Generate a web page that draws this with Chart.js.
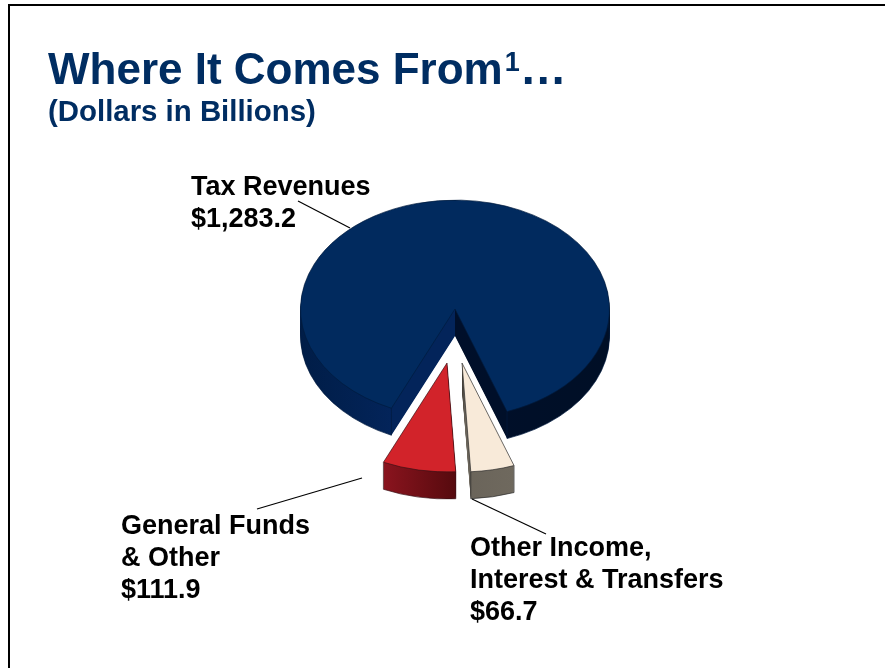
<!DOCTYPE html>
<html>
<head>
<meta charset="utf-8">
<script src="https://cdn.jsdelivr.net/npm/chart.js@4"></script>
<style>
  html,body{margin:0;padding:0;background:#fff;width:885px;height:668px;overflow:hidden;}
  #wrap{position:relative;width:885px;height:668px;}
  #frame{position:absolute;left:8px;top:4px;right:-4px;bottom:-4px;border:2px solid #000;}
  canvas{position:absolute;left:0;top:0;}
  .t{position:absolute;font-family:"Liberation Sans",Arial,sans-serif;font-weight:700;white-space:nowrap;}
  #title{left:48px;top:42px;font-size:44px;line-height:52px;color:#002d62;}
  #title sup{font-size:27px;line-height:0;position:relative;top:3px;margin-left:2px;vertical-align:super;}
  #title span{font-size:47px;}
  #sub{left:48px;top:95px;font-size:29.4px;line-height:32px;color:#002d62;}
  .c{color:#000;font-size:27px;line-height:32px;}
</style>
</head>
<body>
<div id="wrap">
  <div id="frame"></div>
  <canvas id="c" width="885" height="668"></canvas>
  <div class="t" id="title"></div>
  <div class="t" id="sub"></div>
  <div id="callouts"></div>
</div>
<script>
const titleText = "Where It Comes From";
const titleSup = "1";
const titleEnd = "…";
const subtitleText = "(Dollars in Billions)";
const categories = ["Tax Revenues", "Other Income, Interest & Transfers", "General Funds & Other"];
const values = [1283.2, 66.7, 111.9];
const valueLabels = ["$1,283.2", "$66.7", "$111.9"];
const calloutLines = [["Tax Revenues"], ["Other Income,", "Interest & Transfers"], ["General Funds", "& Other"]];

const topColors = ["#012a5e", "#f8ead9", "#d2232a"];
const borderColors = ["#001a3d", "#2a2a2a", "#3a1015"];
const sideStops = [
  [[0, "#001d47"], [0.3, "#03245a"], [0.4999, "#03245a"], [0.5, "#000f2a"], [1, "#000f26"]],
  [[0, "#3f3a33"], [0.06, "#6a645a"], [1, "#6f695e"]],
  [[0, "#8a141e"], [1, "#560a0e"]]
];
const explode = [[0, 0], [7, 54], [-8, 54]];
const calloutPos = [[191, 170], [470, 531], [121, 509]];
const leaders = [[298, 201, 350, 228], [472, 499, 546, 534], [257, 509, 362, 478]];
const squash = 0.705, depth = 27, pieRadius = 154.5;

document.getElementById("title").innerHTML =
  titleText + "<sup>" + titleSup + "</sup><span>" + titleEnd + "</span>";
document.getElementById("sub").textContent = subtitleText;
const host = document.getElementById("callouts");
calloutLines.forEach((lines, i) => {
  const d = document.createElement("div");
  d.className = "t c";
  d.style.left = calloutPos[i][0] + "px";
  d.style.top = calloutPos[i][1] + "px";
  d.innerHTML = lines.concat([valueLabels[i]]).map(s => s.replace(/&/g, "&amp;")).join("<br>");
  host.appendChild(d);
});

function wedgeExtent(el) {
  const xs = [el.x];
  const n = 90;
  for (let k = 0; k <= n; k++) {
    const a = el.startAngle + (el.endAngle - el.startAngle) * k / n;
    xs.push(el.x + Math.cos(a) * el.outerRadius);
  }
  return [Math.min(...xs), Math.max(...xs)];
}

const pie3d = {
  id: "pie3d",
  beforeDatasetDraw(chart, args) {
    const ctx = chart.ctx;
    const arcs = args.meta.data;
    [0, 2, 1].forEach(i => {
      const el = arcs[i];
      const [dx, dy] = explode[i];
      const ext = wedgeExtent(el);
      const grad = ctx.createLinearGradient(ext[0], 0, ext[1], 0);
      sideStops[i].forEach(s => grad.addColorStop(s[0], s[1]));
      const place = extra => {
        ctx.translate(dx + el.x, dy + el.y + extra);
        ctx.scale(1, squash);
        ctx.translate(-el.x, -el.y);
      };
      for (let d = depth; d >= 1; d--) {
        ctx.save();
        place(d);
        ctx.beginPath();
        ctx.moveTo(el.x, el.y);
        ctx.arc(el.x, el.y, el.outerRadius, el.startAngle, el.endAngle);
        ctx.closePath();
        ctx.fillStyle = grad;
        ctx.fill();
        ctx.restore();
      }
      // bottom rim and corner edges
      ctx.save();
      place(depth);
      ctx.beginPath();
      ctx.arc(el.x, el.y, el.outerRadius, el.startAngle, el.endAngle);
      ctx.restore();
      ctx.lineWidth = 0.7;
      ctx.strokeStyle = borderColors[i];
      ctx.stroke();
      [el.startAngle, el.endAngle].forEach(a => {
        if (Math.sin(a) > 0) {
          const px = el.x + dx + Math.cos(a) * el.outerRadius;
          const py = el.y + dy + Math.sin(a) * el.outerRadius * squash;
          ctx.beginPath();
          ctx.moveTo(px, py);
          ctx.lineTo(px, py + depth);
          ctx.stroke();
        }
      });
      // top face, drawn by the library's arc element
      ctx.save();
      place(0);
      el.draw(ctx, chart.chartArea);
      ctx.restore();
    });
    return false;
  },
  afterDraw(chart) {
    const ctx = chart.ctx;
    ctx.save();
    ctx.strokeStyle = "#000";
    ctx.lineWidth = 1.2;
    leaders.forEach(l => {
      ctx.beginPath();
      ctx.moveTo(l[0], l[1]);
      ctx.lineTo(l[2], l[3]);
      ctx.stroke();
    });
    ctx.restore();
  }
};

new Chart(document.getElementById("c"), {
  type: "pie",
  plugins: [pie3d],
  data: {
    labels: categories,
    datasets: [{
      data: values,
      backgroundColor: topColors,
      borderColor: borderColors,
      borderWidth: 0.8,
      borderAlign: "center"
    }]
  },
  options: {
    responsive: false,
    animation: false,
    rotation: 204.3,
    radius: pieRadius,
    layout: { padding: { left: 25, top: 0, right: 0, bottom: 50 } },
    plugins: { legend: { display: false }, tooltip: { enabled: false }, title: { display: false } }
  }
});
</script>
</body>
</html>
